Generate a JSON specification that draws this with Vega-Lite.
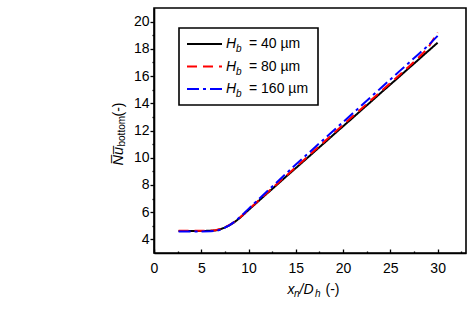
{
  "$schema": "https://vega.github.io/schema/vega-lite/v6.json",
  "width": 312,
  "height": 245,
  "autosize": {"type": "none"},
  "padding": {"left": 154, "top": 8, "right": 2, "bottom": 71},
  "config": {
    "view": {"stroke": "#000000", "strokeWidth": 1.6},
    "font": "Liberation Sans",
    "axis": {
      "grid": false,
      "domainColor": "#000000",
      "domainWidth": 1.6,
      "tickColor": "#000000",
      "tickWidth": 1.3,
      "labelColor": "#000000",
      "labelFont": "Liberation Sans",
      "labelFontSize": 14,
      "titleColor": "#000000",
      "titleFont": "Liberation Sans",
      "titleFontWeight": "normal",
      "titleFontSize": 14
    },
    "legend": {"labelColor": "#000000", "labelFont": "Liberation Sans"}
  },
  "data": {
    "values": [
      {"hb": 40, "x": 2.6, "nu": 4.62}, {"hb": 40, "x": 3, "nu": 4.62}, {"hb": 40, "x": 4, "nu": 4.62},
      {"hb": 40, "x": 5, "nu": 4.62}, {"hb": 40, "x": 6, "nu": 4.63}, {"hb": 40, "x": 6.5, "nu": 4.66},
      {"hb": 40, "x": 7, "nu": 4.74}, {"hb": 40, "x": 7.5, "nu": 4.87}, {"hb": 40, "x": 8, "nu": 5.04},
      {"hb": 40, "x": 8.5, "nu": 5.26}, {"hb": 40, "x": 9, "nu": 5.53}, {"hb": 40, "x": 9.5, "nu": 5.84},
      {"hb": 40, "x": 10, "nu": 6.16}, {"hb": 40, "x": 11, "nu": 6.78}, {"hb": 40, "x": 12, "nu": 7.4},
      {"hb": 40, "x": 13, "nu": 8.01}, {"hb": 40, "x": 14, "nu": 8.63}, {"hb": 40, "x": 15, "nu": 9.24},
      {"hb": 40, "x": 16, "nu": 9.85}, {"hb": 40, "x": 17, "nu": 10.47}, {"hb": 40, "x": 18, "nu": 11.08},
      {"hb": 40, "x": 19, "nu": 11.7}, {"hb": 40, "x": 20, "nu": 12.31}, {"hb": 40, "x": 21, "nu": 12.92},
      {"hb": 40, "x": 22, "nu": 13.54}, {"hb": 40, "x": 23, "nu": 14.15}, {"hb": 40, "x": 24, "nu": 14.77},
      {"hb": 40, "x": 25, "nu": 15.38}, {"hb": 40, "x": 26, "nu": 15.99}, {"hb": 40, "x": 27, "nu": 16.61},
      {"hb": 40, "x": 28, "nu": 17.22}, {"hb": 40, "x": 29, "nu": 17.84}, {"hb": 40, "x": 30, "nu": 18.45},

      {"hb": 80, "x": 2.6, "nu": 4.64}, {"hb": 80, "x": 3, "nu": 4.64}, {"hb": 80, "x": 4, "nu": 4.64},
      {"hb": 80, "x": 5, "nu": 4.64}, {"hb": 80, "x": 6, "nu": 4.65}, {"hb": 80, "x": 6.5, "nu": 4.68},
      {"hb": 80, "x": 7, "nu": 4.76}, {"hb": 80, "x": 7.5, "nu": 4.89}, {"hb": 80, "x": 8, "nu": 5.06},
      {"hb": 80, "x": 8.5, "nu": 5.28}, {"hb": 80, "x": 9, "nu": 5.55}, {"hb": 80, "x": 9.5, "nu": 5.86},
      {"hb": 80, "x": 10, "nu": 6.19}, {"hb": 80, "x": 11, "nu": 6.82}, {"hb": 80, "x": 12, "nu": 7.45},
      {"hb": 80, "x": 13, "nu": 8.07}, {"hb": 80, "x": 14, "nu": 8.69}, {"hb": 80, "x": 15, "nu": 9.31},
      {"hb": 80, "x": 16, "nu": 9.93}, {"hb": 80, "x": 17, "nu": 10.55}, {"hb": 80, "x": 18, "nu": 11.17},
      {"hb": 80, "x": 19, "nu": 11.79}, {"hb": 80, "x": 20, "nu": 12.41}, {"hb": 80, "x": 21, "nu": 13.03},
      {"hb": 80, "x": 22, "nu": 13.64}, {"hb": 80, "x": 23, "nu": 14.26}, {"hb": 80, "x": 24, "nu": 14.87},
      {"hb": 80, "x": 25, "nu": 15.49}, {"hb": 80, "x": 26, "nu": 16.1}, {"hb": 80, "x": 27, "nu": 16.72},
      {"hb": 80, "x": 28, "nu": 17.36}, {"hb": 80, "x": 29, "nu": 18.08}, {"hb": 80, "x": 30, "nu": 19.2},

      {"hb": 160, "x": 2.6, "nu": 4.58}, {"hb": 160, "x": 3, "nu": 4.58}, {"hb": 160, "x": 4, "nu": 4.58},
      {"hb": 160, "x": 5, "nu": 4.58}, {"hb": 160, "x": 6, "nu": 4.59}, {"hb": 160, "x": 6.5, "nu": 4.62},
      {"hb": 160, "x": 7, "nu": 4.71}, {"hb": 160, "x": 7.5, "nu": 4.86}, {"hb": 160, "x": 8, "nu": 5.05},
      {"hb": 160, "x": 8.5, "nu": 5.29}, {"hb": 160, "x": 9, "nu": 5.58}, {"hb": 160, "x": 9.5, "nu": 5.9},
      {"hb": 160, "x": 10, "nu": 6.24}, {"hb": 160, "x": 11, "nu": 6.9}, {"hb": 160, "x": 12, "nu": 7.55},
      {"hb": 160, "x": 13, "nu": 8.2}, {"hb": 160, "x": 14, "nu": 8.85}, {"hb": 160, "x": 15, "nu": 9.5},
      {"hb": 160, "x": 16, "nu": 10.12}, {"hb": 160, "x": 17, "nu": 10.75}, {"hb": 160, "x": 18, "nu": 11.38},
      {"hb": 160, "x": 19, "nu": 12.0}, {"hb": 160, "x": 20, "nu": 12.62}, {"hb": 160, "x": 21, "nu": 13.25},
      {"hb": 160, "x": 22, "nu": 13.87}, {"hb": 160, "x": 23, "nu": 14.5}, {"hb": 160, "x": 24, "nu": 15.12},
      {"hb": 160, "x": 25, "nu": 15.75}, {"hb": 160, "x": 26, "nu": 16.38}, {"hb": 160, "x": 27, "nu": 17.0},
      {"hb": 160, "x": 28, "nu": 17.62}, {"hb": 160, "x": 29, "nu": 18.25}, {"hb": 160, "x": 30, "nu": 18.95}
    ]
  },
  "resolve": {
    "scale": {"x": "independent", "y": "independent"},
    "axis": {"x": "independent", "y": "independent"}
  },
  "layer": [
    {
      "mark": {"type": "line", "strokeCap": "butt", "strokeJoin": "round"},
      "encoding": {
        "x": {
          "field": "x", "type": "quantitative",
          "scale": {"domain": [0, 33], "nice": false, "zero": false},
          "axis": {
            "orient": "bottom", "values": [0, 5, 10, 15, 20, 25, 30],
            "tickSize": -4, "labelPadding": 12, "labelAngle": 0,
            "labelFlush": false, "labelOverlap": false,
            "title": "x", "titleFontStyle": "italic", "titleFontSize": 14,
            "titleX": 133, "titleY": 40, "titleAlign": "left",
            "titleBaseline": "alphabetic", "titleAngle": 0
          }
        },
        "y": {
          "field": "nu", "type": "quantitative",
          "scale": {"domain": [3, 21], "nice": false, "zero": false},
          "axis": {
            "orient": "left", "values": [4, 6, 8, 10, 12, 14, 16, 18, 20],
            "tickSize": 4, "labelPadding": 1, "labelOverlap": false, "labelFlush": false,
            "title": "N\u0305u\u0305", "titleFontStyle": "italic", "titleFontSize": 14.5,
            "titleX": -32, "titleY": 157, "titleAlign": "left",
            "titleBaseline": "alphabetic", "titleAngle": -90
          }
        },
        "color": {
          "field": "hb", "type": "ordinal",
          "scale": {"domain": [40, 80, 160], "range": ["#000000", "#ff0000", "#0000ff"]},
          "legend": {
            "orient": "none", "legendX": 32, "legendY": 29, "direction": "vertical",
            "title": null, "padding": 0, "symbolType": "stroke", "symbolSize": 1225,
            "symbolStrokeWidth": 2, "labelExpr": "'H'", "labelFontStyle": "italic",
            "labelFontSize": 14, "labelOffset": 3, "rowPadding": 8.5, "clipHeight": 14
          }
        },
        "strokeDash": {
          "field": "hb", "type": "ordinal",
          "scale": {"domain": [40, 80, 160], "range": [[1, 0], [10, 6], [12, 4, 3, 4]]},
          "legend": {
            "orient": "none", "legendX": 32, "legendY": 29, "direction": "vertical",
            "title": null, "padding": 0, "symbolType": "stroke", "symbolSize": 1225,
            "symbolStrokeWidth": 2, "labelExpr": "'H'", "labelFontStyle": "italic",
            "labelFontSize": 14, "labelOffset": 3, "rowPadding": 8.5, "clipHeight": 14
          }
        },
        "opacity": {
          "field": "hb", "type": "ordinal",
          "scale": {"domain": [160, 80, 40], "range": [1, 1]},
          "legend": {
            "orient": "none", "legendX": 25, "legendY": 20, "direction": "vertical",
            "values": [40, 80, 160], "title": null, "padding": 9,
            "strokeColor": "#000000",
            "symbolType": "stroke", "symbolSize": 2704,
            "symbolStrokeColor": "transparent", "symbolFillColor": "transparent",
            "labelExpr": "'= ' + datum.label + ' µm'", "labelFontSize": 14,
            "labelOffset": 7, "rowPadding": 8.5, "clipHeight": 14,
            "encode": {
              "symbols": {"update": {"opacity": {"value": 0}}},
              "legend": {"update": {"strokeWidth": {"value": 1.6}}}
            }
          }
        },
        "strokeWidth": {
          "field": "hb", "type": "ordinal",
          "scale": {"domain": [80, 40, 160], "range": [2, 2]},
          "legend": {
            "orient": "none", "legendX": 72, "legendY": 36, "direction": "vertical",
            "values": [40, 80, 160], "title": null, "padding": 0,
            "symbolType": "stroke", "symbolSize": 1,
            "symbolStrokeColor": "transparent", "symbolFillColor": "transparent",
            "labelExpr": "'b'", "labelFontStyle": "italic", "labelFontSize": 10,
            "labelOffset": 0, "rowPadding": 12.5, "clipHeight": 10,
            "encode": {"symbols": {"update": {"opacity": {"value": 0}}}}
          }
        }
      }
    },
    {
      "mark": {"type": "point", "opacity": 0},
      "encoding": {
        "x": {
          "field": "x", "type": "quantitative",
          "scale": {"domain": [0, 33], "nice": false, "zero": false},
          "axis": {
            "orient": "bottom", "values": [2.5, 7.5, 12.5, 17.5, 22.5, 27.5, 32.5],
            "tickSize": -2, "labels": false, "domain": false,
            "title": "n", "titleFontStyle": "italic", "titleFontSize": 10,
            "titleX": 139.5, "titleY": 43, "titleAlign": "left",
            "titleBaseline": "alphabetic", "titleAngle": 0
          }
        },
        "y": {
          "field": "nu", "type": "quantitative",
          "scale": {"domain": [3, 21], "nice": false, "zero": false},
          "axis": {
            "orient": "left", "values": [5, 7, 9, 11, 13, 15, 17, 19],
            "tickSize": 2, "labels": false, "domain": false,
            "title": "bottom", "titleFontSize": 10,
            "titleX": -30, "titleY": 138, "titleAlign": "left",
            "titleBaseline": "alphabetic", "titleAngle": -90
          }
        }
      }
    },
    {
      "mark": {"type": "point", "opacity": 0},
      "encoding": {
        "x": {
          "field": "x", "type": "quantitative",
          "scale": {"domain": [0, 33], "nice": false, "zero": false},
          "axis": {
            "orient": "bottom", "ticks": false, "labels": false, "domain": false,
            "title": "/D", "titleFontStyle": "italic", "titleFontSize": 14,
            "titleX": 145, "titleY": 40, "titleAlign": "left",
            "titleBaseline": "alphabetic", "titleAngle": 0
          }
        },
        "y": {
          "field": "nu", "type": "quantitative",
          "scale": {"domain": [3, 21], "nice": false, "zero": false},
          "axis": {
            "orient": "left", "ticks": false, "labels": false, "domain": false,
            "title": "(-)", "titleFontSize": 14,
            "titleX": -32, "titleY": 108, "titleAlign": "left",
            "titleBaseline": "alphabetic", "titleAngle": -90
          }
        }
      }
    },
    {
      "mark": {"type": "point", "opacity": 0},
      "encoding": {
        "x": {
          "field": "x", "type": "quantitative",
          "scale": {"domain": [0, 33], "nice": false, "zero": false},
          "axis": {
            "orient": "bottom", "ticks": false, "labels": false, "domain": false,
            "title": "h", "titleFontStyle": "italic", "titleFontSize": 10,
            "titleX": 160.5, "titleY": 43, "titleAlign": "left",
            "titleBaseline": "alphabetic", "titleAngle": 0
          }
        }
      }
    },
    {
      "mark": {"type": "point", "opacity": 0},
      "encoding": {
        "x": {
          "field": "x", "type": "quantitative",
          "scale": {"domain": [0, 33], "nice": false, "zero": false},
          "axis": {
            "orient": "bottom", "ticks": false, "labels": false, "domain": false,
            "title": "(-)", "titleFontSize": 14,
            "titleX": 171, "titleY": 40, "titleAlign": "left",
            "titleBaseline": "alphabetic", "titleAngle": 0
          }
        }
      }
    }
  ]
}
